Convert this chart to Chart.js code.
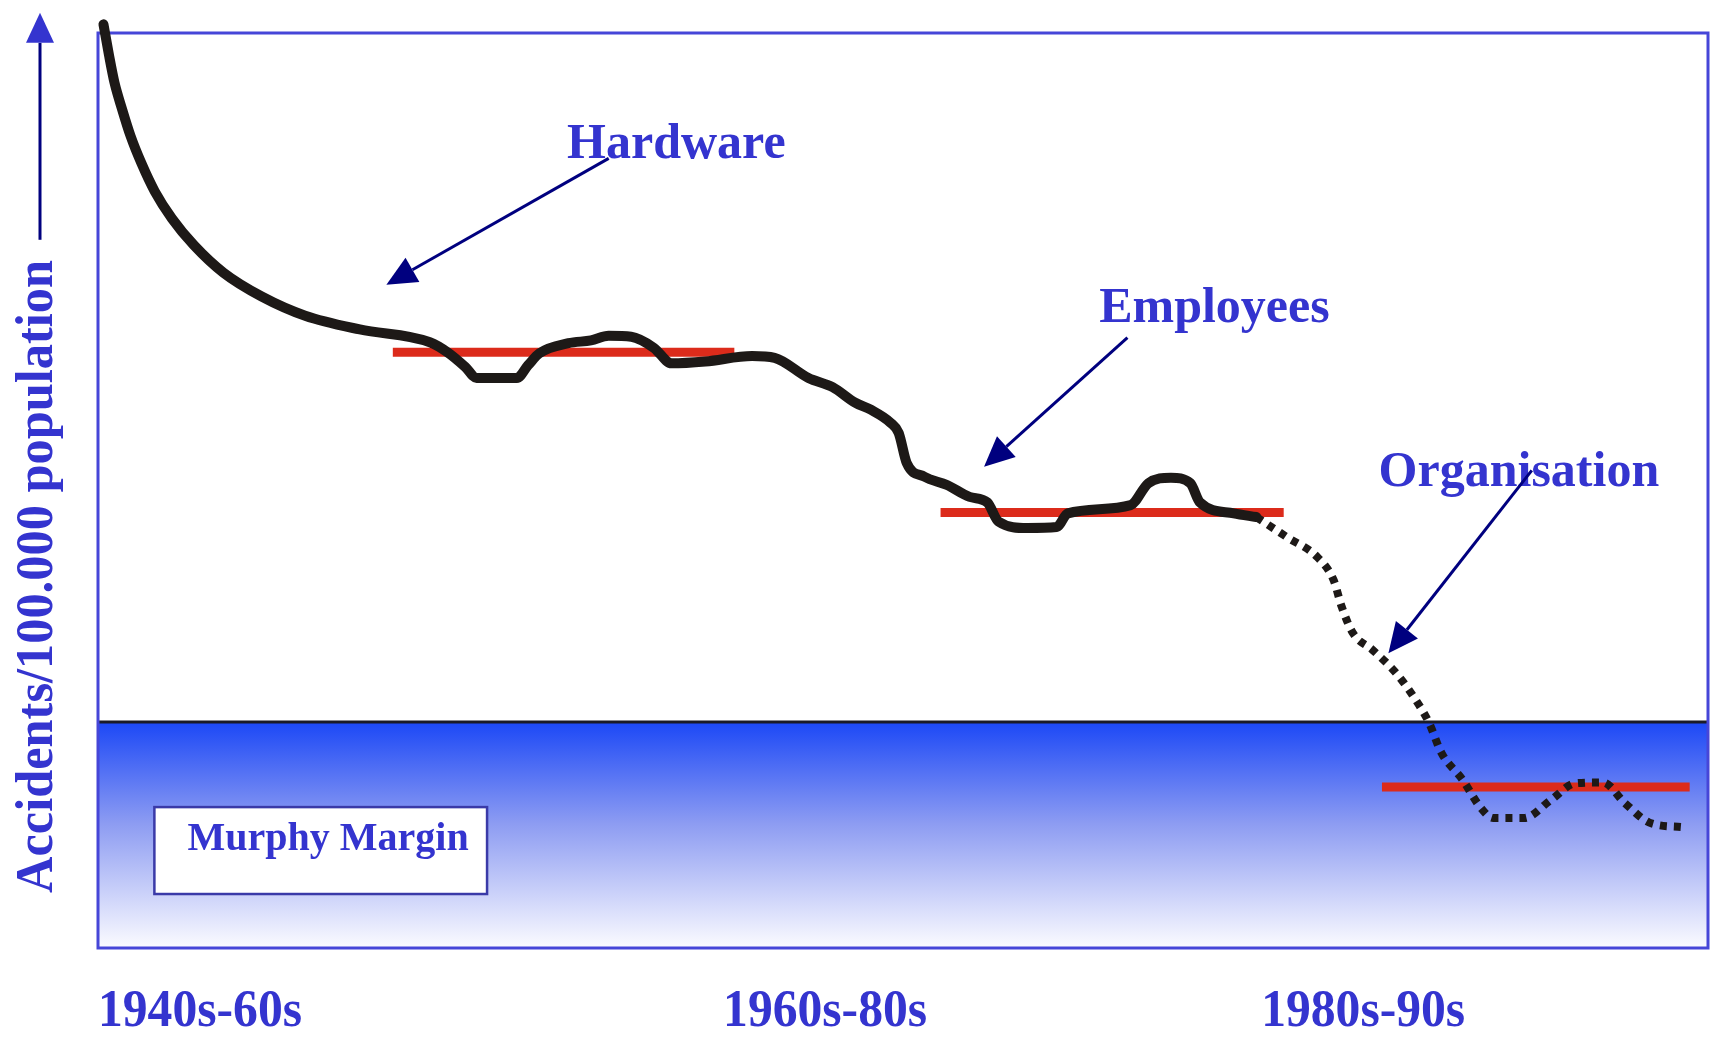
<!DOCTYPE html>
<html>
<head>
<meta charset="utf-8">
<title>Murphy Margin</title>
<script src="https://cdn.jsdelivr.net/npm/chart.js@4.4.1/dist/chart.umd.min.js"></script>
<style>
  html, body { margin: 0; padding: 0; background: #ffffff; }
  #wrap { width: 1710px; height: 1038px; }
</style>
</head>
<body>
<div id="wrap"><canvas id="myChart" width="1710" height="1038"></canvas></div>
<script>
// values (x = time 0..100, y = accidents index 0..100)
const solidX = [0.34, 0.68, 1.02, 1.49, 2.03, 2.71, 3.52, 4.6, 5.96, 7.79, 10.16, 12.86, 16.25, 20.6, 21.7, 22.8, 23.5, 26.0, 26.7, 27.4, 29.2, 30.6, 31.7, 33.1, 34.5, 35.6, 37.7, 40.6, 42.0, 44.1, 45.6, 47.0, 48.0, 49.2, 49.7, 50.2, 51.3, 52.7, 54.1, 55.2, 55.9, 57.7, 59.5, 60.2, 64.1, 65.2, 66.6, 67.8, 68.4, 70.5, 71.9];
const solidY = [100.95, 97.6, 94.6, 91.7, 88.7, 85.7, 82.7, 79.7, 76.8, 73.8, 71.2, 69.1, 67.6, 66.2, 65.1, 63.5, 62.3, 62.3, 63.7, 65.0, 66.1, 66.4, 66.9, 66.8, 65.6, 63.9, 64.1, 64.7, 64.5, 62.3, 61.3, 59.6, 58.8, 57.4, 56.3, 53.0, 51.5, 50.6, 49.3, 48.7, 46.6, 45.9, 46.0, 47.5, 48.4, 50.8, 51.4, 50.8, 48.7, 47.5, 47.1];

const dottedX = [71.9, 73.8, 75.7, 76.7, 77.2, 77.9, 79.1, 80.6, 81.8, 82.6, 83.4, 84.7, 85.8, 86.6, 88.5, 90.2, 91.7, 93.4, 94.8, 96.3, 98.4];
const dottedY = [47.1, 44.9, 42.7, 40.2, 37.3, 34.4, 32.6, 30.0, 27.1, 24.7, 21.3, 18.4, 15.4, 14.2, 14.2, 16.2, 18.0, 18.1, 15.8, 13.7, 13.2];

// red plateau levels
const levelFrom = [18.3, 52.3, 79.7];
const levelTo = [39.5, 73.6, 98.8];
const levelValue = [65.1, 47.6, 17.6];

const murphyMargin = 24.7;

// tick labels
const xTickLabels = ['1940s-60s', '1960s-80s', '1980s-90s'];
const xTickValues = [0, 38.8, 72.2];
const yTitle = 'Accidents/100.000 population';

// annotation anchors, in data units
const notes = ['Hardware', 'Employees', 'Organisation'];
const noteX = [35.9, 69.3, 88.2];
const noteY = [86.3, 68.4, 50.5];
const arrowFromX = [31.7, 63.9, 89.0];
const arrowFromY = [86.3, 66.7, 52.2];
const arrowToX = [17.9, 55.0, 80.1];
const arrowToY = [72.5, 52.6, 32.2];

const textBlue = '#3434cf';
const navy = '#00007f';
const serif = '"Liberation Serif", "Times New Roman", serif';

function toPoints(xs, ys) {
  return xs.map((x, i) => ({ x: x, y: ys[i] }));
}

function drawArrow(ctx, x1, y1, x2, y2) {
  const ang = Math.atan2(y2 - y1, x2 - x1);
  const len = 30, half = 14;
  const bx = x2 - len * Math.cos(ang);
  const by = y2 - len * Math.sin(ang);
  ctx.beginPath();
  ctx.moveTo(x1, y1);
  ctx.lineTo(bx, by);
  ctx.stroke();
  ctx.beginPath();
  ctx.moveTo(x2, y2);
  ctx.lineTo(bx + half * Math.sin(ang), by - half * Math.cos(ang));
  ctx.lineTo(bx - half * Math.sin(ang), by + half * Math.cos(ang));
  ctx.closePath();
  ctx.fill();
}

const decor = {
  id: 'decor',
  beforeDatasetsDraw(chart) {
    const { ctx, chartArea: a, scales: { x, y } } = chart;
    const top = y.getPixelForValue(murphyMargin);
    ctx.save();
    // the Murphy band
    const g = ctx.createLinearGradient(0, top, 0, a.bottom);
    g.addColorStop(0, '#1c48f6');
    g.addColorStop(0.45, '#8d9cf2');
    g.addColorStop(1, '#fbfbff');
    ctx.fillStyle = g;
    ctx.fillRect(a.left, top, a.right - a.left, a.bottom - top);
    ctx.strokeStyle = '#1b1b26';
    ctx.lineWidth = 3;
    ctx.beginPath();
    ctx.moveTo(a.left, top);
    ctx.lineTo(a.right, top);
    ctx.stroke();

    // frame
    ctx.strokeStyle = '#4646d8';
    ctx.lineWidth = 3;
    ctx.strokeRect(a.left, a.top, a.right - a.left - 1, a.bottom - a.top);

    // Murphy Margin box
    const bx1 = x.getPixelForValue(3.5), bx2 = x.getPixelForValue(24.15);
    const by1 = y.getPixelForValue(15.4), by2 = y.getPixelForValue(5.9);
    ctx.fillStyle = '#ffffff';
    ctx.fillRect(bx1, by1, bx2 - bx1, by2 - by1);
    ctx.strokeStyle = '#3a3aa8';
    ctx.lineWidth = 2.5;
    ctx.strokeRect(bx1, by1, bx2 - bx1, by2 - by1);
    ctx.fillStyle = textBlue;
    ctx.font = 'bold 40px ' + serif;
    ctx.textAlign = 'left';
    ctx.textBaseline = 'alphabetic';
    ctx.fillText('Murphy Margin', x.getPixelForValue(5.56), y.getPixelForValue(10.7));
    ctx.restore();
  },
  afterDatasetsDraw(chart) {
    const { ctx, chartArea: a, scales: { x, y } } = chart;
    ctx.save();
    ctx.fillStyle = textBlue;
    ctx.textBaseline = 'alphabetic';

    // labels on the plot
    ctx.font = 'bold 50px ' + serif;
    ctx.textAlign = 'center';
    notes.forEach((t, i) => {
      ctx.fillText(t, x.getPixelForValue(noteX[i]), y.getPixelForValue(noteY[i]));
    });

    // arrows pointing at the curve
    ctx.strokeStyle = navy;
    ctx.fillStyle = navy;
    ctx.lineWidth = 3;
    notes.forEach((t, i) => {
      drawArrow(ctx,
        x.getPixelForValue(arrowFromX[i]), y.getPixelForValue(arrowFromY[i]),
        x.getPixelForValue(arrowToX[i]), y.getPixelForValue(arrowToY[i]));
    });

    // x tick labels (narrow, bold)
    ctx.fillStyle = textBlue;
    ctx.font = 'bold 53px ' + serif;
    ctx.textAlign = 'left';
    xTickLabels.forEach((t, i) => {
      ctx.fillText(t, x.getPixelForValue(xTickValues[i]), a.bottom + 78, 204);
    });

    // y title with its upward arrow
    const ax = a.left - 58;
    drawArrow(ctx, ax, y.getPixelForValue(77.4), ax, y.getPixelForValue(102.2));
    ctx.save();
    ctx.translate(a.left - 46, y.getPixelForValue(40.6));
    ctx.rotate(-Math.PI / 2);
    ctx.fillStyle = textBlue;
    ctx.font = 'bold 52px ' + serif;
    ctx.textAlign = 'center';
    ctx.fillText(yTitle, 0, 0, 633);
    ctx.restore();

    ctx.restore();
  }
};

const datasets = [
  {
    label: 'accidents',
    data: toPoints(solidX, solidY),
    borderColor: '#1d1917',
    borderWidth: 10,
    borderCapStyle: 'round',
    borderJoinStyle: 'round',
    cubicInterpolationMode: 'monotone',
    pointRadius: 0,
    clip: false,
    order: 0
  },
  {
    label: 'organisation',
    data: toPoints(dottedX, dottedY),
    borderColor: '#1d1917',
    borderWidth: 8,
    borderDash: [7, 7],
    borderCapStyle: 'butt',
    cubicInterpolationMode: 'monotone',
    pointRadius: 0,
    clip: false,
    order: 1
  }
];

levelValue.forEach((v, i) => {
  datasets.push({
    label: 'level ' + (i + 1),
    data: [{ x: levelFrom[i], y: v }, { x: levelTo[i], y: v }],
    borderColor: '#dc2b1b',
    borderWidth: 9,
    borderCapStyle: 'butt',
    pointRadius: 0,
    order: 2
  });
});

const context = document.getElementById('myChart').getContext('2d');
const myChart = new Chart(context, {
  type: 'line',
  data: { datasets: datasets },
  options: {
    responsive: false,
    animation: false,
    layout: { padding: { left: 98, right: 1, top: 33, bottom: 90 } },
    scales: {
      x: { type: 'linear', min: 0, max: 100, display: false },
      y: { type: 'linear', min: 0, max: 100, display: false }
    },
    plugins: {
      legend: { display: false },
      tooltip: { enabled: false }
    }
  },
  plugins: [decor]
});
</script>
</body>
</html>
